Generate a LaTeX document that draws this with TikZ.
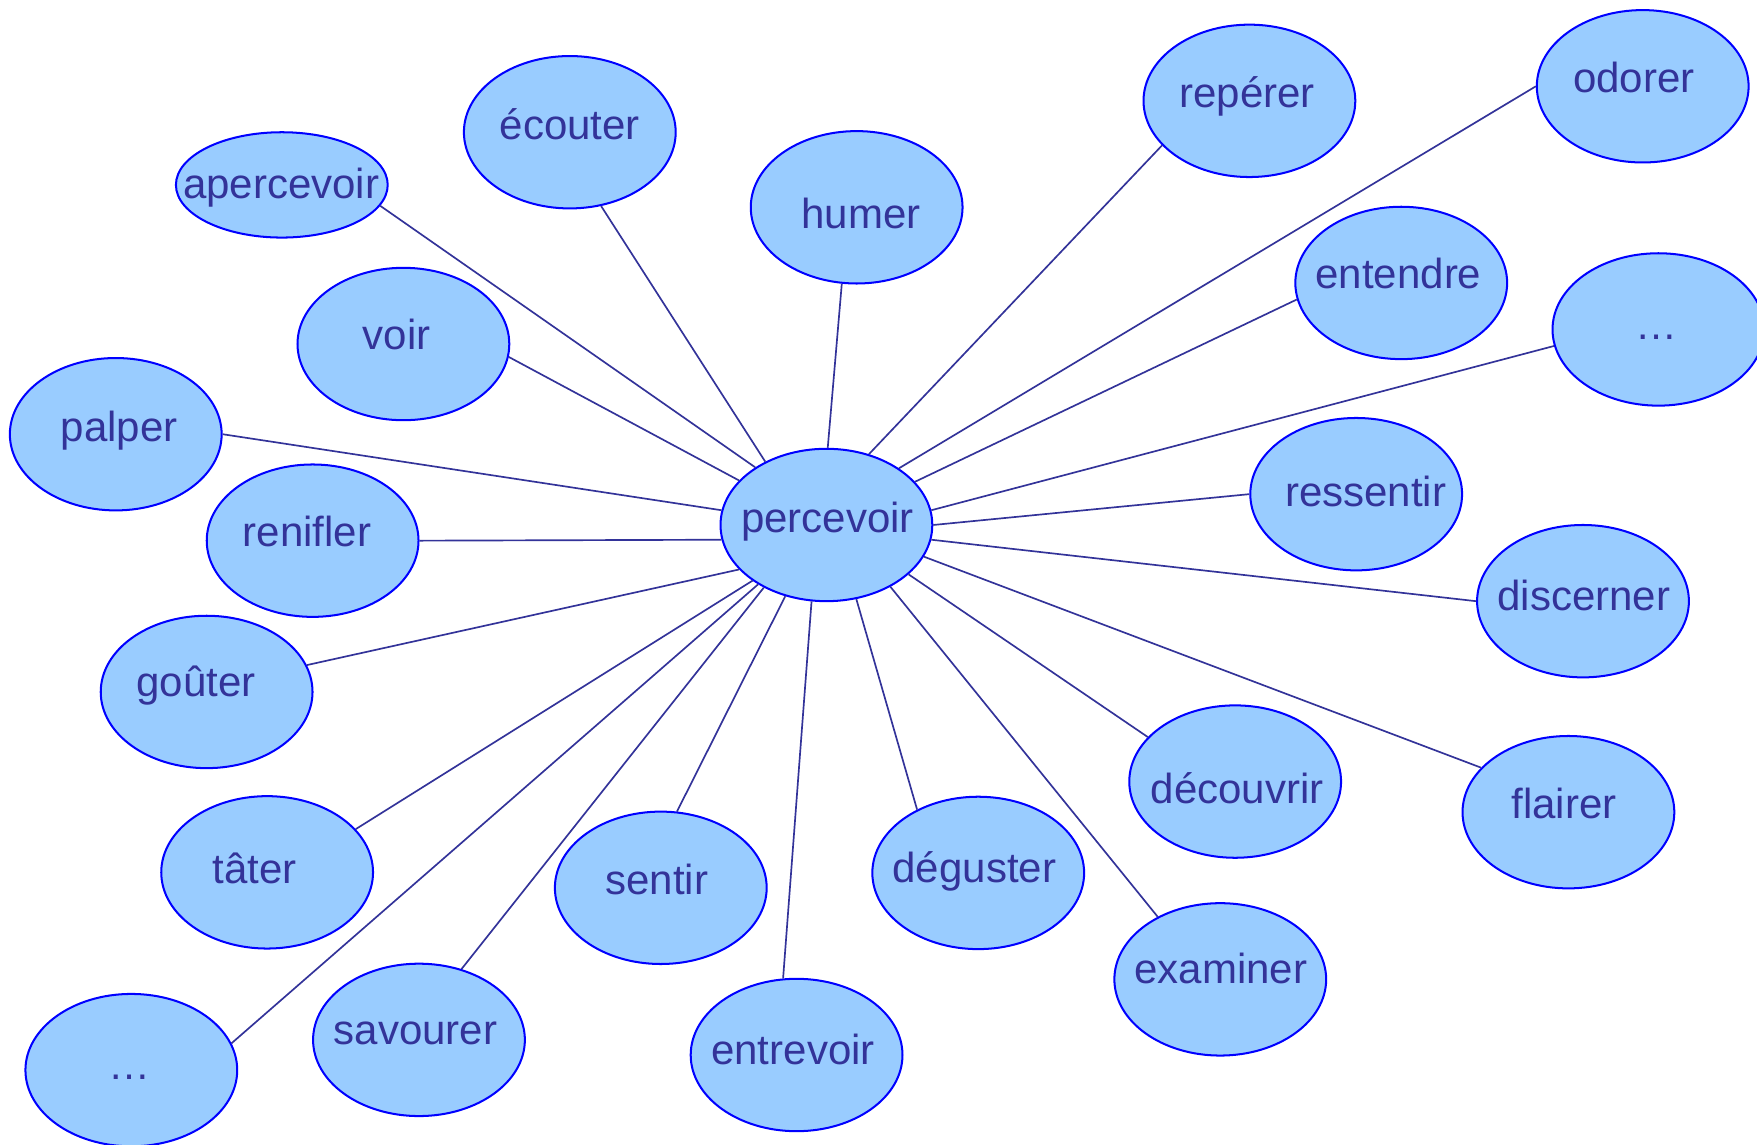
\documentclass[tikz,border=0pt]{standalone}
\usepackage{fontspec}
\setmainfont{Liberation Sans}
\usetikzlibrary{shapes.geometric}
\definecolor{fillb}{HTML}{99CCFF}
\definecolor{edgeb}{HTML}{0000FF}
\definecolor{inkb}{HTML}{333399}
% #1 horizontal offset, #2 baseline offset below centre, #3 text
\newcommand\bubtext[3]{\makebox[0pt]{\kern#1pt\kern#1pt\raisebox{-#2pt}[0pt][0pt]{#3}}}
\begin{document}
\begin{tikzpicture}[x=1pt,y=-1pt,
  bub/.style={ellipse, draw=edgeb, line width=1.8pt, fill=fillb,
    minimum width=189pt, minimum height=136pt, inner sep=0pt,
    text=inkb, font=\fontsize{37.5}{45}\selectfont},
  link/.style={draw=inkb, line width=1.5pt}]
\useasboundingbox (0,0) rectangle (1568,1021);
\node[bub] (p) at (737.5,468.5) {\bubtext{1}{6.4}{percevoir}};
\node[bub] (odorer) at (1466,77) {\bubtext{-8}{5.5}{odorer}};
\node[bub] (reperer) at (1115,90) {\bubtext{-2}{5.8}{repérer}};
\node[bub] (ecouter) at (508.5,118) {\bubtext{0}{6.3}{écouter}};
\node[bub, minimum height=94pt] (apercevoir) at (251.5,165) {\bubtext{-0.5}{12}{apercevoir}};
\node[bub] (humer) at (764.5,185) {\bubtext{4}{18.7}{humer}};
\node[bub] (entendre) at (1250.5,252.5) {\bubtext{-2.5}{4.8}{entendre}};
\node[bub] (voir) at (360,307) {\bubtext{-6}{4.8}{voir}};
\node[bub] (etc1) at (1480,294) {\bubtext{-2}{9.4}{…}};
\node[bub] (palper) at (103.3,387.5) {\bubtext{3}{6.2}{palper}};
\node[bub] (ressentir) at (1210.3,441) {\bubtext{8.4}{10.6}{ressentir}};
\node[bub] (renifler) at (279,482.5) {\bubtext{-5}{5.2}{renifler}};
\node[bub] (discerner) at (1412.7,536.5) {\bubtext{0.7}{7.9}{discerner}};
\node[bub] (gouter) at (184.4,617.5) {\bubtext{-9.6}{3.9}{goûter}};
\node[bub] (decouvrir) at (1102.3,697.5) {\bubtext{1.7}{19.6}{découvrir}};
\node[bub] (flairer) at (1399.7,724.8) {\bubtext{-4}{5.5}{flairer}};
\node[bub] (tater) at (238.4,778.5) {\bubtext{-11.3}{10}{tâter}};
\node[bub] (deguster) at (873,779) {\bubtext{-3.5}{8.7}{déguster}};
\node[bub] (sentir) at (589.7,792.3) {\bubtext{-3.7}{5.6}{sentir}};
\node[bub] (examiner) at (1089,874) {\bubtext{0.4}{4}{examiner}};
\node[bub] (savourer) at (373.9,928) {\bubtext{-3.2}{4.3}{savourer}};
\node[bub] (entrevoir) at (710.9,941.5) {\bubtext{-3.2}{8.8}{entrevoir}};
\node[bub] (etc2) at (117.2,955) {\bubtext{-1.6}{8.7}{…}};
\draw[link] (p.141.3) -- (apercevoir.-12);
\draw[link] (p.134.2) -- (ecouter.-67.3);
\draw[link] (p.89.6) -- (humer.-101.6);
\draw[link] (p.59.2) -- (reperer.-153.2);
\draw[link] (p.38.7) -- (odorer.180);
\draw[link] (p.26.4) -- (entendre.-171.4);
\draw[link] (p.8.4) -- (etc1.-171.4);
\draw[link] (p.0.6) -- (ressentir.180);
\draw[link] (p.-8.4) -- (discerner.180);
\draw[link] (p.-18.5) -- (flairer.153.7);
\draw[link] (p.-31.3) -- (decouvrir.153.7);
\draw[link] (p.-44.7) -- (examiner.135);
\draw[link] (p.-68) -- (deguster.134.5);
\draw[link] (p.-101.2) -- (entrevoir.100.8);
\draw[link] (p.-120.8) -- (sentir.78.2);
\draw[link] (p.-135.8) -- (savourer.59.2);
\draw[link] (p.-139.2) -- (etc2.15.9);
\draw[link] (p.-143.6) -- (tater.26.3);
\draw[link] (p.-153.6) -- (gouter.15.9);
\draw[link] (p.-172.2) -- (renifler.0);
\draw[link] (p.172.2) -- (palper.0);
\draw[link] (p.153) -- (voir.-7.9);
\end{tikzpicture}
\end{document}
